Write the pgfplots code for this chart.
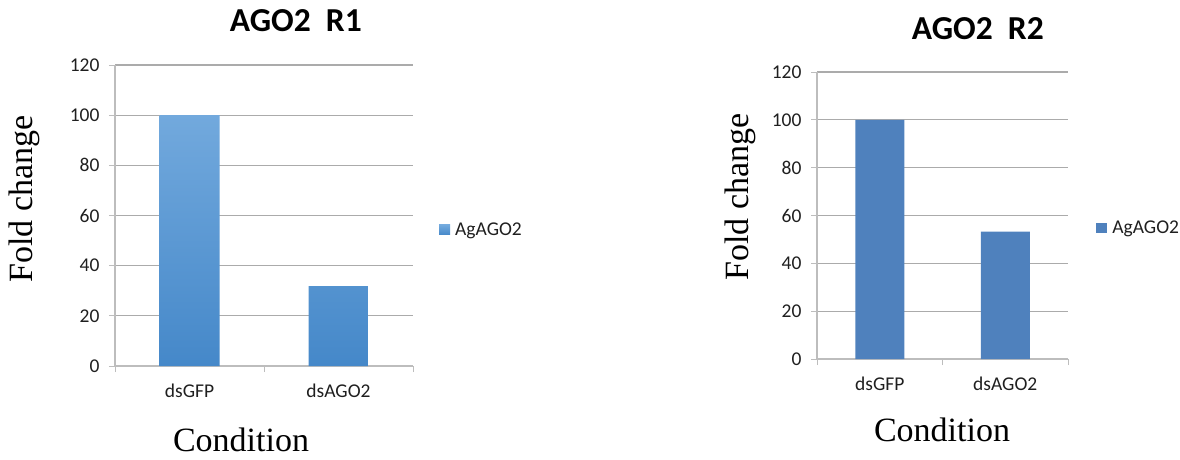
\documentclass[border=0pt]{standalone}
\usepackage{fontspec}
\setmainfont{Carlito}
\newfontfamily\timesf{Liberation Serif}
\usepackage{pgfplots}
\pgfplotsset{compat=1.18}
\definecolor{gridc}{HTML}{ABABAB}
\definecolor{axisc}{HTML}{BDBDBD}
\definecolor{txtc}{HTML}{1F1F1F}
\definecolor{btop}{HTML}{72A9DD}
\definecolor{bmid}{HTML}{559CDD}
\definecolor{bbot}{HTML}{4588C9}
\definecolor{bsolid}{HTML}{4F81BD}
\pgfplotsset{
  agostyle/.style={
    scale only axis, anchor=south west,
    xmin=0, xmax=2, ymin=0, ymax=120,
    ytick={0,20,...,120},
    xtick={0.5,1.5}, xticklabels={dsGFP,dsAGO2},
    extra x ticks={0,1,2}, extra x tick labels={},
    extra x tick style={xtick style={draw=axisc, line width=1pt}, grid=none},
    xtick style={draw=none},
    ytick style={draw=axisc, line width=1pt},
    tick align=outside, major tick length=6pt,
    axis x line*=bottom, axis y line*=left,
    axis line style={draw=axisc, line width=1.2pt, -},
    ymajorgrids, grid style={draw=gridc, line width=1.1pt},
    /pgf/number format/assume math mode=true,
    ticklabel style={font=\fontsize{19.5}{19.5}\selectfont, text=txtc},
    yticklabel style={xshift=-6pt},
    xticklabel style={yshift=-8pt},
    title style={font=\bfseries\fontsize{33.5}{33.5}\selectfont, anchor=center},
    xlabel style={font=\timesf\fontsize{34}{34}\selectfont, anchor=center},
    ylabel style={font=\timesf\fontsize{34}{34}\selectfont, anchor=center},
    legend style={draw=none, fill=none, inner sep=0pt, anchor=west,
      font=\fontsize{19.5}{19.5}\selectfont, text=txtc},
    legend image code/.code={\fill[#1] (0pt,-5pt) rectangle (11pt,5pt); \path (14pt,0pt);},
    xlabel={Condition}, ylabel={Fold change},
  }
}
\begin{document}
\begin{tikzpicture}
\path[use as bounding box] (0pt,0pt) rectangle (1180pt,459pt);
\begin{axis}[agostyle,
  at={(115pt,93pt)}, width=298pt, height=301pt,
  title={AGO2\ \ R1},
  title style={at={(0.607,1.126)}},
  xlabel style={at={(axis description cs:0.423,-0.246)}},
  ylabel style={at={(axis description cs:-0.305,0.555)}},
  legend style={at={(1.087,0.452)}},
]
\addplot[ybar, bar width=60pt, draw=none, shading=axis, top color=btop, middle color=bmid, bottom color=bbot]
  coordinates {(0.5,100) (1.5,31.8)};
\addlegendentry{AgAGO2}
\end{axis}
\begin{axis}[agostyle,
  at={(817pt,100pt)}, width=251pt, height=287pt,
  title={AGO2\ \ R2},
  title style={at={(0.641,1.129)}},
  xlabel style={at={(axis description cs:0.498,-0.247)}},
  ylabel style={at={(axis description cs:-0.307,0.564)}},
  legend style={at={(1.112,0.455)}},
]
\addplot[ybar, bar width=49pt, draw=none, fill=bsolid]
  coordinates {(0.5,100) (1.5,53.3)};
\addlegendentry{AgAGO2}
\end{axis}
\end{tikzpicture}
\end{document}
